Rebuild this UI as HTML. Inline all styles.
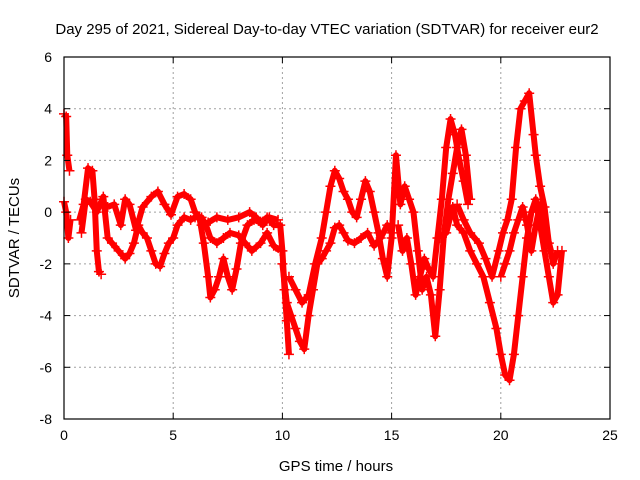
<!DOCTYPE html>
<html><head><meta charset="utf-8"><style>
body{margin:0;background:#fff}
svg{display:block;font-family:"Liberation Sans",sans-serif}
</style></head><body>
<svg id="chart" width="640" height="480">
<rect width="640" height="480" fill="#fff"/>
<text x="327" y="34" text-anchor="middle" font-size="15">Day 295 of 2021, Sidereal Day-to-day VTEC variation (SDTVAR) for receiver eur2</text>
<text x="336" y="471" text-anchor="middle" font-size="15">GPS time / hours</text>
<text transform="translate(19,238) rotate(-90)" text-anchor="middle" font-size="15">SDTVAR / TECUs</text>
<g id="grid"></g><g id="marks"></g><g id="axes"></g>
</svg>
<script>
const xTicks=[0,5,10,15,20,25];
const yTicks=[-8,-6,-4,-2,0,2,4,6];
const trackA=[[0,3.8],[0.1,3.7],[0.15,2.2],[0.25,1.6]];
const trackB=[[0,0.4],[0.1,0],[0.2,-1],[0.3,-0.3]];
const trackC=[[0.7,-0.3],[0.9,0.3],[1.1,1.7],[1.3,1.6],[1.4,0.5],[1.5,-1.5],[1.6,-2.3],[1.7,-2.4]];
const trackD=[[0.8,-0.8],[1.0,0.5],[1.2,0.4],[1.5,0],[1.8,0.6],[2.0,-1],[2.2,-1.2],[2.5,-1.5],[2.8,-1.8],[3.0,-1.6],[3.2,-1.2],[3.4,-0.5],[3.6,-0.8],[3.8,-1],[4.0,-1.5],[4.2,-2],[4.4,-2.1],[4.6,-1.6],[4.8,-1.2],[5.0,-1],[5.2,-0.5],[5.5,-0.2],[5.8,-0.3],[6.0,-0.2],[6.3,-0.2],[6.5,-0.5],[6.7,-1.0],[7.0,-1.2],[7.3,-1.0],[7.6,-0.8],[8.0,-0.9],[8.3,-1.2],[8.6,-1.5],[9.0,-1.2],[9.3,-0.8],[9.6,-1.3],[9.9,-1.5]];
const trackE=[[2.0,0.2],[2.3,0.3],[2.6,-0.5],[2.8,0.5],[3.0,0.3],[3.3,-0.7],[3.6,0.2],[4.0,0.6],[4.3,0.8],[4.6,0.3],[4.9,-0.1],[5.2,0.6],[5.5,0.7],[5.8,0.5],[6.0,0],[6.2,-0.2],[6.4,-1.2],[6.6,-2.5],[6.7,-3.3],[6.9,-3],[7.1,-2.5],[7.3,-1.8],[7.5,-2.5],[7.7,-3.0],[7.9,-2.2],[8.1,-1.2],[8.4,-0.5],[8.7,-0.3],[9.0,-0.4],[9.3,-0.2],[9.6,-0.5],[9.9,-0.5],[10.0,-1.5],[10.1,-3],[10.2,-4.2],[10.3,-5.5]];
const trackF=[[6.3,-0.5],[6.6,-0.4],[7.0,-0.2],[7.5,-0.3],[8.0,-0.2],[8.5,0],[8.8,-0.2],[9.1,-0.5],[9.4,-0.2],[9.8,-0.3]];
const trackG=[[10.0,-2],[10.2,-3.5],[10.4,-4],[10.6,-4.5],[10.8,-5],[11.0,-5.3],[11.2,-4.0],[11.4,-3],[11.6,-2],[11.8,-1.8],[12.0,-1.5],[12.2,-1.2],[12.4,-0.6],[12.6,-0.5],[12.8,-0.8],[13.0,-1.1],[13.3,-1.2],[13.6,-1.0],[13.9,-0.8],[14.2,-1.3],[14.5,-1.0],[14.8,-0.5],[15.0,-0.8]];
const trackH=[[10.3,-2.5],[10.6,-3],[10.9,-3.5],[11.2,-3.2],[11.5,-2.0],[11.8,-1.0],[12.0,0],[12.2,1.0],[12.4,1.6],[12.6,1.3],[12.8,0.8],[13.0,0.5],[13.2,0],[13.4,-0.2],[13.6,0.5],[13.8,1.2],[14.0,0.8],[14.2,0],[14.4,-0.8],[14.6,-1.8],[14.8,-2.5],[15.0,-1.0],[15.2,2.2],[15.4,0.3],[15.6,1.0],[15.8,0.5],[16.0,0],[16.2,-1.5],[16.4,-3.0],[16.6,-2.5],[16.8,-3.2],[17.0,-4.8],[17.2,-3],[17.4,-0.8],[17.6,0.5],[17.8,1.5],[18.0,2.5],[18.2,3.2],[18.4,2.2],[18.6,0.5]];
const trackI=[[15.3,-0.5],[15.5,-1.5],[15.7,-1.0],[15.9,-2],[16.1,-3.2],[16.3,-2.5],[16.5,-1.8],[16.7,-2.2],[16.9,-2.5],[17.1,-1],[17.3,0.5],[17.5,2.5],[17.7,3.6],[17.9,3.0],[18.1,2.0],[18.3,1.2],[18.5,0.3]];
const trackJ=[[17.2,-1.0],[17.5,-0.8],[17.8,0.2],[18.0,-0.5],[18.3,-0.8],[18.6,-1.5],[18.9,-2.0],[19.2,-2.5],[19.5,-3.5],[19.8,-4.5],[20.0,-5.5],[20.2,-6.3],[20.4,-6.5],[20.6,-5.5],[20.8,-4],[21.0,-2.5],[21.2,-1],[21.4,0],[21.6,0.5],[21.8,-0.5],[22.0,-1.5],[22.2,-2.5],[22.4,-3.5],[22.6,-3.2],[22.8,-1.5]];
const trackK=[[18.0,0.3],[18.3,-0.3],[18.6,-0.8],[19.0,-1.2],[19.3,-1.8],[19.6,-2.5],[19.9,-1.5],[20.1,-0.8],[20.3,-0.3],[20.5,0.5],[20.7,2.5],[20.9,4.0],[21.1,4.3],[21.3,4.6],[21.5,3.0],[21.6,2.2],[21.8,1.0],[22.0,0.2],[22.2,-1.2],[22.4,-2],[22.6,-1.5]];
const trackL=[[20.0,-2.5],[20.2,-2],[20.4,-1.5],[20.6,-0.8],[20.8,-0.3],[21.0,0.2],[21.2,-0.5],[21.4,-1.5],[21.6,-0.5],[21.8,0.3],[22.0,-0.5],[22.3,-1.5]];
const tracks=[trackA,trackB,trackC,trackD,trackE,trackF,trackG,trackH,trackI,trackJ,trackK,trackL];

const L=64,R=610,T=57,B=419,X0=0,X1=25,Y0=-8,Y1=6;
const xs=v=>L+(v-X0)/(X1-X0)*(R-L);
const ys=v=>B-(v-Y0)/(Y1-Y0)*(B-T);
const NS='http://www.w3.org/2000/svg';
function mk(tag,attrs,parent){const e=document.createElementNS(NS,tag);for(const k in attrs)e.setAttribute(k,attrs[k]);parent.appendChild(e);return e;}
const grid=document.getElementById('grid'),marks=document.getElementById('marks'),axes=document.getElementById('axes');
xTicks.forEach(t=>{
  const x=xs(t);
  if(t>X0&&t<X1){const g=mk('line',{x1:x,x2:x,y1:T,y2:B,stroke:'#a0a0a0','stroke-dasharray':'2,3'},grid);
  
  }
  mk('line',{x1:x,x2:x,y1:B,y2:B-6,stroke:'#000'},axes);
  mk('line',{x1:x,x2:x,y1:T,y2:T+6,stroke:'#000'},axes);
  const lb=mk('text',{x:x,y:B+21,'text-anchor':'middle','font-size':'14'},axes);lb.textContent=t;
  
  
});
yTicks.forEach(t=>{
  const y=ys(t);
  if(t>Y0&&t<Y1){const g=mk('line',{x1:L,x2:R,y1:y,y2:y,stroke:'#a0a0a0','stroke-dasharray':'2,3'},grid);
  
  }
  mk('line',{x1:L,x2:L+6,y1:y,y2:y,stroke:'#000'},axes);
  mk('line',{x1:R,x2:R-6,y1:y,y2:y,stroke:'#000'},axes);
  const lb=mk('text',{x:L-12,y:y+5,'text-anchor':'end','font-size':'14'},axes);lb.textContent=t;
  
  
});
const fr=mk('rect',{x:L,y:T,width:R-L,height:B-T,fill:'none',stroke:'#000','stroke-width':1.2},axes);


tracks.forEach(tr=>{
  const g=mk('g',{},marks);
  
  
  mk('polyline',{points:tr.map(p=>xs(p[0])+','+ys(p[1])).join(' '),fill:'none',stroke:'#f00','stroke-width':6,'stroke-linejoin':'round'},g);
  tr.forEach(p=>{
    const x=xs(p[0]),y=ys(p[1]);
    const m=mk('path',{d:`M${x-5},${y}h10M${x},${y-5}v10`,stroke:'#f00','stroke-width':1.5},g);
    
    
  });
});
</script>
</body></html>
